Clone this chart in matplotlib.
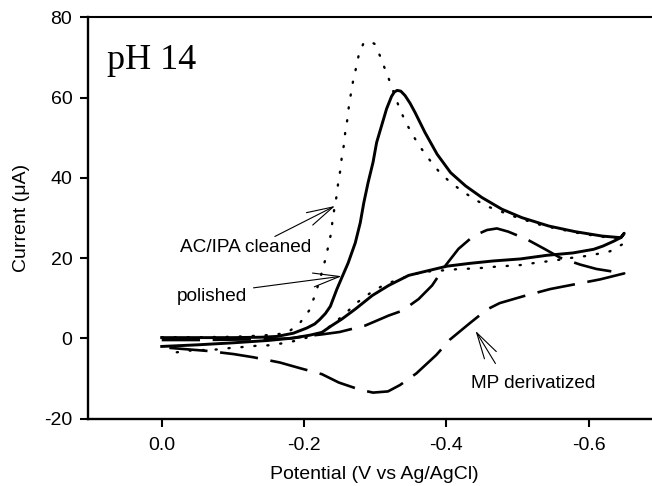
import matplotlib
matplotlib.use('Agg')
import matplotlib.pyplot as plt

plt.rcParams['font.family'] = ['Liberation Sans', 'DejaVu Sans']
plt.rcParams['axes.unicode_minus'] = False

# ---------------- data ----------------
# AC/IPA cleaned (dotted)
acipa_fwd_v = [0.0, -0.05, -0.10, -0.14, -0.165, -0.178, -0.194, -0.207, -0.214, -0.222,
               -0.230, -0.234, -0.238, -0.240, -0.243, -0.246, -0.248, -0.251, -0.253, -0.256,
               -0.258, -0.261, -0.263, -0.266, -0.269, -0.273, -0.277, -0.283, -0.291, -0.299,
               -0.307, -0.314, -0.321, -0.327, -0.334, -0.342, -0.351, -0.362, -0.375, -0.389,
               -0.406, -0.424, -0.441, -0.459, -0.477, -0.495, -0.512, -0.530, -0.549, -0.584,
               -0.615, -0.637, -0.650]
acipa_fwd_i = [0.3, 0.3, 0.4, 0.7, 1.1, 1.6, 3.8, 6.9, 10.1, 14.5,
               19.7, 22.9, 26.2, 29.3, 32.8, 35.7, 38.8, 41.9, 45.1, 48.2,
               51.5, 54.7, 57.8, 61.1, 64.2, 67.3, 70.7, 73.3, 74.1, 73.4,
               70.3, 67.0, 63.8, 60.8, 57.4, 54.2, 51.2, 48.0, 44.8, 41.7,
               38.8, 36.5, 34.5, 32.8, 31.6, 30.4, 29.4, 28.4, 27.6, 26.3,
               25.4, 25.0, 24.0]
acipa_rev_v = [-0.647, -0.630, -0.614, -0.595, -0.577, -0.559, -0.542, -0.524, -0.506, -0.489,
               -0.471, -0.453, -0.436, -0.418, -0.400, -0.382, -0.366, -0.346, -0.328, -0.311,
               -0.293, -0.275, -0.258, -0.241, -0.223, -0.206, -0.188, -0.170, -0.153, -0.135,
               -0.118, -0.100, -0.082, -0.063, -0.046, -0.028, -0.010]
acipa_rev_i = [23.4, 21.7, 21.1, 20.5, 20.1, 19.6, 19.2, 18.8, 18.3, 18.1,
               17.9, 17.6, 17.4, 17.3, 17.0, 16.8, 16.5, 15.5, 14.4, 13.2,
               11.3, 9.0, 6.2, 3.6, 1.3, 0.3, -0.6, -1.2, -1.7, -1.8,
               -2.1, -2.3, -2.7, -2.9, -2.9, -3.3, -3.7]

# polished (solid)
pol_fwd_v = [0.0, -0.05, -0.10, -0.14, -0.162, -0.185, -0.204, -0.215, -0.222, -0.230,
             -0.237, -0.246, -0.253, -0.262, -0.272, -0.279, -0.284, -0.290, -0.297, -0.302,
             -0.309, -0.316, -0.323, -0.327, -0.331, -0.336, -0.342, -0.349, -0.356, -0.370,
             -0.387, -0.406, -0.427, -0.450, -0.478, -0.506, -0.544, -0.581, -0.619, -0.645,
             -0.650]
pol_fwd_i = [0.2, 0.2, 0.2, 0.3, 0.5, 1.3, 2.6, 3.6, 4.7, 6.2,
             8.0, 12.2, 15.1, 18.8, 23.8, 28.8, 33.8, 38.8, 43.9, 48.8,
             53.0, 57.2, 60.3, 61.4, 61.8, 61.6, 60.5, 58.6, 56.3, 51.3,
             45.9, 41.3, 38.0, 35.1, 32.2, 30.1, 28.0, 26.6, 25.5, 25.1,
             26.2]
pol_rev_v = [-0.646, -0.635, -0.620, -0.607, -0.578, -0.541, -0.504, -0.466, -0.433, -0.401,
             -0.375, -0.347, -0.319, -0.296, -0.272, -0.253, -0.239, -0.225, -0.208, -0.185,
             -0.15, -0.10, -0.05, 0.0]
pol_rev_i = [25.2, 24.2, 23.0, 22.2, 21.3, 20.7, 19.8, 19.3, 18.7, 18.0,
             16.9, 15.7, 13.2, 10.7, 7.3, 4.8, 3.2, 1.5, 0.8, 0.1,
             -0.5, -1.1, -1.6, -2.0]

# MP derivatized (dashed)
mp_fwd_v = [0.0, -0.05, -0.10, -0.15, -0.18, -0.20, -0.225, -0.25, -0.286, -0.319,
            -0.338, -0.361, -0.380, -0.399, -0.417, -0.438, -0.457, -0.471, -0.487, -0.513,
            -0.539, -0.560, -0.588, -0.611, -0.650]
mp_fwd_i = [-0.4, -0.4, -0.3, -0.2, 0.0, 0.5, 1.0, 1.6, 3.2, 5.7,
            6.9, 9.8, 13.2, 18.2, 22.3, 25.5, 27.0, 27.4, 26.6, 24.7,
            22.2, 20.1, 18.4, 17.3, 16.2]
mp_rev_v = [-0.650, -0.616, -0.578, -0.546, -0.508, -0.475, -0.457, -0.433, -0.405, -0.386,
            -0.358, -0.335, -0.318, -0.297, -0.279, -0.249, -0.225, -0.194, -0.166, -0.129,
            -0.101, -0.063, -0.035, 0.0]
mp_rev_i = [16.2, 14.7, 13.4, 12.3, 10.5, 8.8, 7.2, 3.8, -0.3, -4.1,
            -8.7, -11.6, -13.2, -13.5, -12.8, -11.0, -8.9, -7.4, -6.0, -4.7,
            -3.9, -3.1, -2.7, -2.2]

xticks = [0.0, -0.2, -0.4, -0.6]
xtick_labels = ['0.0', '-0.2', '-0.4', '-0.6']
yticks = [-20, 0, 20, 40, 60, 80]
ytick_labels = ['-20', '0', '20', '40', '60', '80']

series_labels = ['AC/IPA cleaned', 'polished', 'MP derivatized']
panel_title = 'pH 14'
x_title = 'Potential (V vs Ag/AgCl)'
y_title = 'Current (\u03bcA)'

# ---------------- figure ----------------
W, H = 652, 486
fig = plt.figure(figsize=(W / 100, H / 100), dpi=100)
ax = fig.add_axes([88.3 / W, (H - 418.7) / H, (659.8 - 88.3) / W, (418.7 - 17.3) / H])

ax.plot(acipa_fwd_v + acipa_rev_v, acipa_fwd_i + acipa_rev_i, color='black', lw=1.7,
        linestyle=(0, (0.5, 5.0)), dash_capstyle='round')
ax.plot(pol_fwd_v + pol_rev_v, pol_fwd_i + pol_rev_i, color='black', lw=2.1,
        solid_joinstyle='round')
ax.plot(mp_fwd_v + mp_rev_v, mp_fwd_i + mp_rev_i, color='black', lw=1.9,
        linestyle=(0, (14.5, 4.8)))

ax.set_xlim(0.1032, -0.70)
ax.set_ylim(-20, 80)
ax.set_xticks(xticks)
ax.set_xticklabels(xtick_labels)
ax.set_yticks(yticks)
ax.set_yticklabels(ytick_labels)
ax.tick_params(axis='both', direction='out', length=5.5, width=1.5, labelsize=14)
ax.tick_params(axis='x', pad=8)
ax.tick_params(axis='y', pad=6)
for side in ['left', 'bottom']:
    ax.spines[side].set_linewidth(1.7)
ax.spines['top'].set_linewidth(1.5)
ax.spines['right'].set_linewidth(1.5)

ax.set_xlabel(x_title, fontsize=14, labelpad=8.5)
ax.set_ylabel(y_title, fontsize=14, labelpad=10)

ax.text(0.077, 67, panel_title, family='Liberation Serif', fontsize=26,
        ha='left', va='baseline')

text_pos = [(-0.026, 21.5), (-0.021, 9.4), (-0.434, -12.25)]
arrow_tail = [(-0.159, 25.4), (-0.129, 12.6), (-0.469, -6.25)]
arrow_tip = [(-0.2436, 33.0), (-0.253, 15.5), (-0.441, 1.9)]
for lab, tp, tail, tip in zip(series_labels, text_pos, arrow_tail, arrow_tip):
    ax.text(tp[0], tp[1], lab, fontsize=13.7, ha='left', va='baseline')
    ax.annotate('', xy=tip, xytext=tail,
                arrowprops=dict(arrowstyle='->,head_length=1.9,head_width=0.5',
                                mutation_scale=10, lw=0.8, color='black',
                                shrinkA=0, shrinkB=0))

fig.savefig('out.png', dpi=100)
